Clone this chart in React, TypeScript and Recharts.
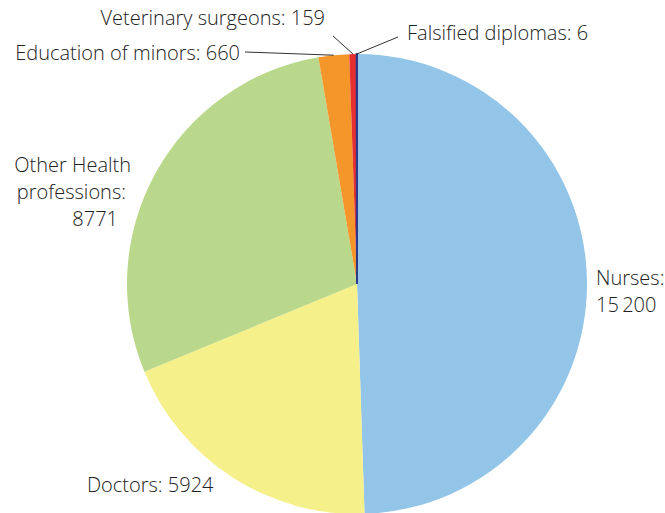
import { PieChart, Pie, Cell } from 'recharts';

const categories = ['Nurses', 'Doctors', 'Other Health professions', 'Education of minors', 'Veterinary surgeons', 'Falsified diplomas'];
const counts = [15200, 5924, 8771, 660, 159, 6];
const colors = ['#93c5e8', '#f5f08a', '#bad88c', '#f5962a', '#e5302e', '#2e3a8c'];

const data = categories.map((name, i) => ({ name, value: counts[i] }));

const FONT = '"Open Sans", sans-serif';
const RAD = Math.PI / 180;

// label text lines and their placement relative to the pie centre
const labelLayout = [
  { lines: [['Nurses:', 239, -7], ['15\u2009200', 239, 20]], anchor: 'start', line: null },
  { lines: [['Doctors: 5924', -270, 200]], anchor: 'start', line: null },
  { lines: [['Other Health', -226, -120], ['professions:', -231, -93], ['8771', -239, -66]], anchor: 'end', line: null },
  { lines: [['Education of minors: 660', -117, -232]], anchor: 'end', line: [-112, -232] },
  { lines: [['Veterinary surgeons: 159', -32, -267]], anchor: 'end', line: [-24, -248] },
  { lines: [['Falsified diplomas: 6', 50, -252]], anchor: 'start', line: [41, -247] },
];

const renderLabel = (props: any) => {
  const { cx, cy, midAngle, outerRadius, index } = props;
  const layout = labelLayout[index];
  const ex = cx + outerRadius * Math.cos(-midAngle * RAD);
  const ey = cy + outerRadius * Math.sin(-midAngle * RAD);
  return (
    <g key={`lbl-${index}`}>
      {layout.line && (
        <line x1={cx + layout.line[0]} y1={cy + layout.line[1]} x2={ex} y2={ey} stroke="#333" strokeWidth={1} />
      )}
      {layout.lines.map(([t, dx, dy]: any, j: number) => (
        <text key={j} x={cx + dx} y={cy + dy} textAnchor={layout.anchor} dominantBaseline="central"
          fill="#222" fontSize={20} fontWeight={300} fontFamily={FONT}>
          {t}
        </text>
      ))}
    </g>
  );
};

export default function App() {
  return (
    <div style={{ position: 'absolute', left: 0, top: 0, background: '#fff' }}>
      <PieChart width={665} height={513}>
        <Pie
          data={data}
          dataKey="value"
          nameKey="name"
          cx={352}
          cy={279}
          outerRadius={230}
          startAngle={90}
          endAngle={-270}
          stroke="none"
          label={renderLabel}
          labelLine={false}
          isAnimationActive={false}
        >
          {data.map((d, i) => (
            <Cell key={d.name} fill={colors[i]} stroke={i === 5 ? colors[i] : 'none'} strokeWidth={i === 5 ? 2 : 0} />
          ))}
        </Pie>
      </PieChart>
    </div>
  );
}
